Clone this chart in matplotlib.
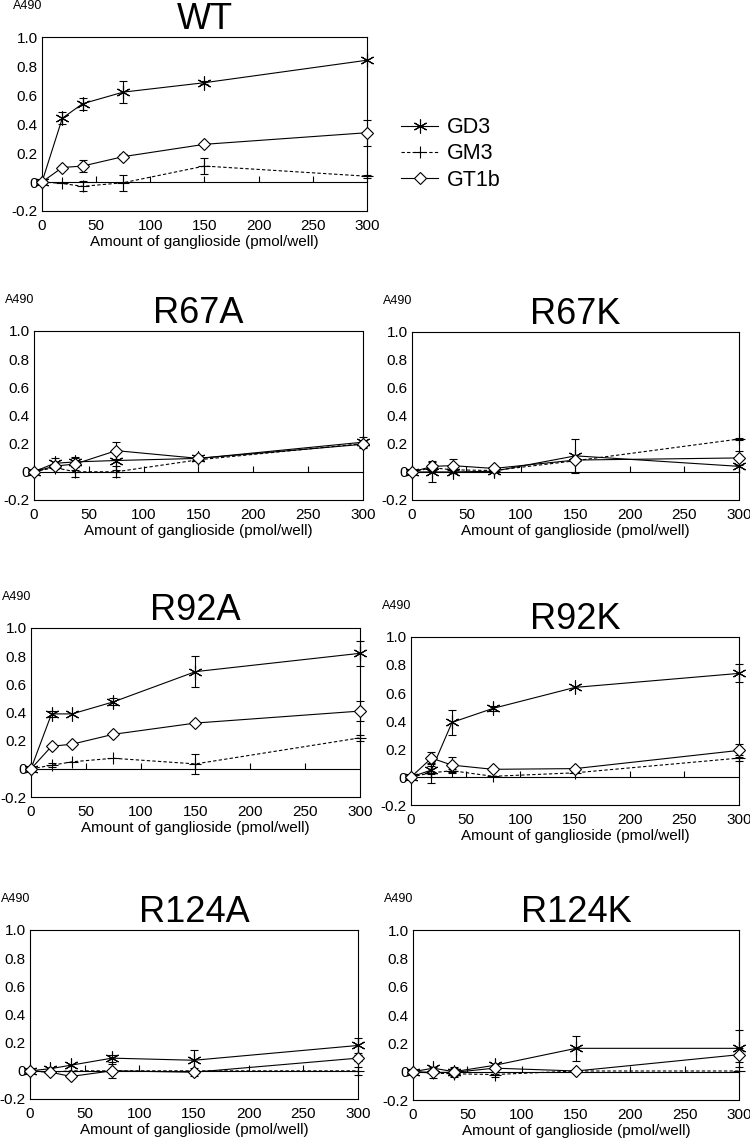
import numpy as np
import matplotlib
matplotlib.use("Agg")
from matplotlib import pyplot as plt

plt.rcParams['font.family'] = ['Liberation Sans', 'DejaVu Sans']

# ganglioside amounts (pmol/well), same for every panel
amount = [0, 18.75, 37.5, 75, 150, 300]
panels = ["WT", "R67A", "R67K", "R92A", "R92K", "R124A", "R124K"]

# A490 values
gd3 = {
    "WT":    [0, 0.44, 0.54, 0.62, 0.685, 0.84],
    "R67A":  [0, 0.06, 0.07, 0.08, 0.095, 0.21],
    "R67K":  [0, 0.0, 0.0, 0.005, 0.115, 0.04],
    "R92A":  [0, 0.39, 0.39, 0.475, 0.69, 0.82],
    "R92K":  [0, 0.05, 0.39, 0.49, 0.64, 0.74],
    "R124A": [0, 0.015, 0.04, 0.09, 0.075, 0.18],
    "R124K": [0, 0.025, 0.0, 0.045, 0.165, 0.165],
}
gd3_err = {
    "WT":    [0, 0.04, 0.04, 0.075, 0.01, 0],
    "R67A":  [0, 0.04, 0.035, 0.07, 0, 0.04],
    "R67K":  [0, 0.075, 0, 0, 0.12, 0],
    "R92A":  [0, 0.02, 0, 0.025, 0.11, 0.09],
    "R92K":  [0, 0.03, 0.09, 0.02, 0, 0.065],
    "R124A": [0, 0, 0, 0.025, 0.07, 0.05],
    "R124K": [0, 0, 0.03, 0, 0.09, 0.13],
}
gm3 = {
    "WT":    [0, -0.01, -0.03, -0.005, 0.11, 0.04],
    "R67A":  [0, 0.03, 0.0, 0.0, 0.085, 0.2],
    "R67K":  [0, 0.03, 0.015, 0.01, 0.08, 0.235],
    "R92A":  [0, 0.025, 0.05, 0.075, 0.035, 0.22],
    "R92K":  [0, 0.03, 0.045, 0.005, 0.03, 0.135],
    "R124A": [0, -0.01, 0.0, 0.0, 0.0, 0.0],
    "R124K": [0, -0.01, -0.015, -0.02, 0.005, 0.005],
}
gm3_err = {
    "WT":    [0, 0, 0.035, 0.055, 0.055, 0.01],
    "R67A":  [0, 0, 0.04, 0.04, 0, 0],
    "R67K":  [0, 0, 0, 0, 0, 0.005],
    "R92A":  [0, 0.015, 0, 0, 0.07, 0.02],
    "R92K":  [0, 0.07, 0.01, 0, 0, 0.02],
    "R124A": [0, 0, 0, 0, 0, 0.03],
    "R124K": [0, 0, 0, 0.02, 0, 0],
}
gt1b = {
    "WT":    [0, 0.10, 0.11, 0.175, 0.26, 0.34],
    "R67A":  [0, 0.04, 0.055, 0.15, 0.095, 0.195],
    "R67K":  [0, 0.04, 0.045, 0.025, 0.085, 0.10],
    "R92A":  [0, 0.16, 0.175, 0.245, 0.325, 0.41],
    "R92K":  [0, 0.135, 0.085, 0.055, 0.06, 0.19],
    "R124A": [0, -0.01, -0.04, 0.0, -0.01, 0.09],
    "R124K": [0, -0.005, -0.005, 0.025, 0.005, 0.12],
}
gt1b_err = {
    "WT":    [0, 0.01, 0.04, 0.015, 0.01, 0.09],
    "R67A":  [0, 0, 0.04, 0.06, 0, 0.02],
    "R67K":  [0, 0.03, 0.05, 0, 0, 0.05],
    "R92A":  [0, 0.015, 0.015, 0, 0, 0.07],
    "R92K":  [0, 0.045, 0.055, 0, 0, 0.045],
    "R124A": [0, 0.015, 0, 0.05, 0.03, 0.02],
    "R124K": [0, 0.04, 0.03, 0, 0, 0.05],
}

yticks = [-0.2, 0, 0.2, 0.4, 0.6, 0.8, 1.0]
ytick_labels = ["-0.2", "0", "0.2", "0.4", "0.6", "0.8", "1.0"]
xticks = [0, 50, 100, 150, 200, 250, 300]

# axes boxes in figure fractions [left, bottom, width, height]
boxes = {
    "WT":    [0.056, 0.8154, 0.4333, 0.1522],
    "R67A":  [0.0453, 0.5626, 0.4387, 0.1479],
    "R67K":  [0.5493, 0.5626, 0.436, 0.147],
    "R92A":  [0.0413, 0.3027, 0.4387, 0.1479],
    "R92K":  [0.548, 0.2957, 0.4373, 0.147],
    "R124A": [0.04, 0.0385, 0.4373, 0.1479],
    "R124K": [0.5507, 0.0376, 0.4347, 0.1487],
}

fig = plt.figure(figsize=(7.5, 11.43), dpi=100)

series = [
    ("GD3", gd3, gd3_err, dict(marker=(6, 2, 0), ms=10, ls='-', mfc='black')),
    ("GM3", gm3, gm3_err, dict(marker='+', ms=8, ls=(0, (3, 2)), mfc='black')),
    ("GT1b", gt1b, gt1b_err, dict(marker='D', ms=6, ls='-', mfc='white')),
]

lines_for_legend = []
x = np.array(amount)
for name in panels:
    ax = fig.add_axes(boxes[name])
    for label, vals, errs, st in series:
        y = np.array(vals[name])
        e = np.array(errs[name])
        ln, = ax.plot(x, y, color='black', lw=0.8, mec='black', mew=0.8,
                      clip_on=False, zorder=3, label=label, **st)
        m = e > 0
        ax.errorbar(x[m], y[m], yerr=e[m], fmt='none', ecolor='black',
                    elinewidth=0.8, capsize=3, capthick=0.8, clip_on=False, zorder=2)
        if name == "WT":
            lines_for_legend.append(ln)

    ax.set_xlim(0, 300)
    ax.set_ylim(-0.2, 1.0)
    ax.set_xticks(xticks)
    ax.set_yticks(yticks)
    ax.set_yticklabels(ytick_labels)
    ax.tick_params(length=0, labelsize=11)
    ax.tick_params(axis='y', pad=3)
    ax.tick_params(axis='x', pad=6)
    for sp in ax.spines.values():
        sp.set_linewidth(0.8)

    # baseline at zero with small upward ticks
    sec = ax.secondary_xaxis(0, transform=ax.transData)
    sec.set_xticks(xticks[1:-1])
    sec.tick_params(direction='in', length=4, width=0.8, labelbottom=False, labeltop=False)
    for sp in sec.spines.values():
        sp.set_linewidth(0.8)

    ax.set_xlabel("Amount of ganglioside (pmol/well)", fontsize=11, labelpad=1)
    ax.set_title(name, fontsize=26, pad=5)
    ax.annotate("A490", xy=(0, 1), xycoords='axes fraction', xytext=(-29, 31),
                textcoords='offset pixels', fontsize=9, ha='left', va='center')

fig.legend(lines_for_legend, ["GD3", "GM3", "GT1b"], loc='upper left',
           bbox_to_anchor=(0.52, 0.907), frameon=False, fontsize=15.5,
           handlelength=1.75, handletextpad=0.38, labelspacing=0.25, borderpad=0)

fig.savefig("out.png", dpi=100)
